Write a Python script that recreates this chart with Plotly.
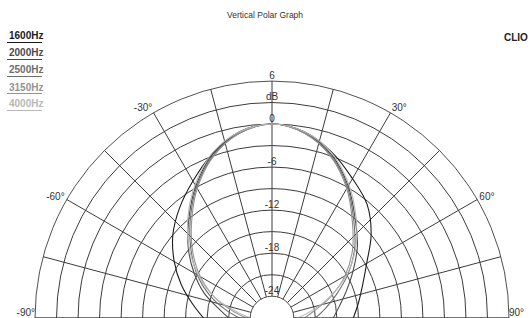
import plotly.graph_objects as go

angles = [-90, -80, -70, -60, -50, -40, -30, -20, -10, 0, 10, 20, 30, 40, 50, 60, 70, 80, 90]
freq_labels = ["1600Hz", "2000Hz", "2500Hz", "3150Hz", "4000Hz"]
db_1600 = [-17.5, -15.8, -13.6, -11.3, -9.0, -7.0, -5.0, -2.7, -0.7, 0, -0.7, -2.5, -4.6, -6.4, -9.0, -11.8, -13.6, -14.8, -15.7]
db_2000 = [-21, -19.5, -17, -14.5, -11.8, -9, -5.8, -2.8, -0.8, 0, -0.8, -2.8, -5.8, -9, -11.5, -14, -16, -17.5, -18.5]
db_2500 = [-22.5, -20.5, -17.8, -15, -12.3, -9.3, -6, -3, -0.9, 0, -0.9, -3, -6, -9.3, -12, -14.8, -17.5, -19.5, -21]
db_3150 = [-23.5, -21.5, -18.5, -15.5, -12.6, -9.6, -6.2, -3.1, -0.9, 0, -0.9, -3.1, -6.2, -9.6, -12.4, -15.3, -18.3, -21, -22.5]
db_4000 = [-24, -22, -18.5, -15.2, -12, -8.8, -5.6, -2.6, -0.7, 0, -0.7, -2.6, -5.6, -8.8, -11.8, -15, -18.5, -21.5, -23.5]
series = [db_1600, db_2000, db_2500, db_3150, db_4000]
colors = ["#1a1a1a", "#4a4a4a", "#6e6e6e", "#939393", "#b8b8b8"]

radial_ticks = [-24, -21, -18, -15, -12, -9, -6, -3, 0, 3, 6]
radial_text = ["-24", "", "-18", "", "-12", "", "-6", "", "0", "dB", "6"]
angle_ticks = [-90, -75, -60, -45, -30, -15, 0, 15, 30, 45, 60, 75, 90]
angle_text = ["", "", "-60°", "", "-30°", "", "", "", "30°", "", "60°", "", ""]
edge_angles = [-90, 90]
edge_text = ["-90°", "90°"]

FONT = "Liberation Sans, Arial, sans-serif"
GRID = "#3c3c3c"
W, H = 530, 318

fig = go.Figure()
for lab, vals, col in zip(freq_labels, series, colors):
    fig.add_trace(go.Scatterpolar(
        r=vals, theta=angles, mode="lines", name=lab,
        line=dict(color=col, width=1.1, shape="spline"),
        showlegend=False, hoverinfo="skip"))

# radial labels along the 0° line
fig.add_trace(go.Scatterpolar(
    r=radial_ticks, theta=[0] * len(radial_ticks), mode="text",
    text=radial_text, textposition="top center",
    textfont=dict(family=FONT, size=10, color="#333333"),
    showlegend=False, hoverinfo="skip"))

# -90° / 90° labels sitting above the baseline
fig.add_trace(go.Scatterpolar(
    r=[6, 6], theta=edge_angles, mode="text",
    text=edge_text, textposition=["top left", "top right"],
    textfont=dict(family=FONT, size=10, color="#333333"),
    showlegend=False, hoverinfo="skip", cliponaxis=False))

ann = [dict(text="Vertical Polar Graph", x=0.5, y=1 - 15 / H, xref="paper", yref="paper",
            yanchor="middle", showarrow=False,
            font=dict(family=FONT, size=8.5, color="#333333"))]
shapes = []
for i, (lab, col) in enumerate(zip(freq_labels, colors)):
    ty = 36 + i * 17
    ann.append(dict(text="<b>%s</b>" % lab, x=7 / W, y=1 - ty / H,
                    xref="paper", yref="paper", xanchor="left", yanchor="middle",
                    showarrow=False, font=dict(family=FONT, size=10, color=col)))
    ly = 1 - (ty + 6.5) / H
    shapes.append(dict(type="line", xref="paper", yref="paper",
                       x0=7 / W, x1=42 / W, y0=ly, y1=ly,
                       line=dict(color=col, width=1)))
ann.append(dict(text="<b>CLIO</b>", x=1.0, y=1 - 38 / H, xref="paper", yref="paper",
                xanchor="right", yanchor="middle", showarrow=False,
                font=dict(family=FONT, size=10, color="#222222")))

fig.update_layout(
    width=W, height=H,
    margin=dict(l=0, r=0, t=0, b=0),
    paper_bgcolor="white",
    font=dict(family=FONT, size=10, color="#333333"),
    polar=dict(
        domain=dict(x=[35 / W, 509 / W], y=[0.0, 1 - 81 / H]),
        sector=[0, 180],
        hole=0.092,
        bgcolor="white",
        angularaxis=dict(
            rotation=90, direction="clockwise",
            tickmode="array", tickvals=angle_ticks, ticktext=angle_text,
            showgrid=True, gridcolor=GRID, gridwidth=0.9,
            showline=True, linecolor=GRID, linewidth=0.9,
            ticks="", tickfont=dict(family=FONT, size=10, color="#333333")),
        radialaxis=dict(
            range=[-24, 6], tickmode="array", tickvals=radial_ticks,
            showticklabels=False, ticks="",
            showgrid=True, gridcolor=GRID, gridwidth=0.9,
            showline=False)),
    annotations=ann,
    shapes=shapes,
)

fig.write_html("out.html", config={"displayModeBar": False},
               post_script="document.body.style.margin='0';document.body.style.overflow='hidden';")
